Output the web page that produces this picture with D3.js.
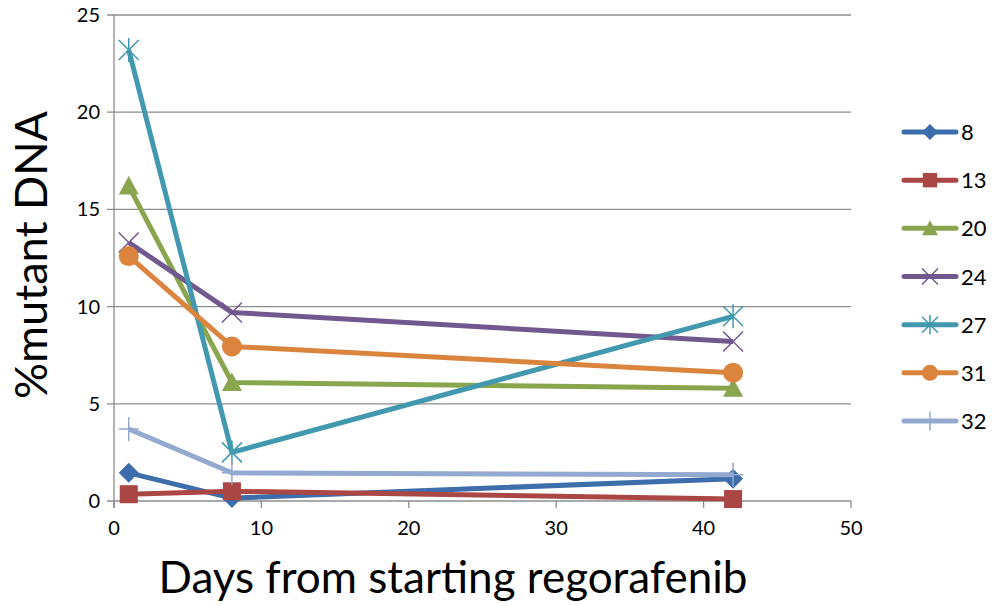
<!DOCTYPE html>
<html>
<head>
<meta charset="utf-8">
<script src="https://cdn.jsdelivr.net/npm/d3@7"></script>
<style>
  body { margin: 0; background: #fff; }
  text { font-family: Lato, "Open Sans", sans-serif; fill: #000; }
</style>
</head>
<body>
<svg id="chart"></svg>
<script>
// 1) Data -----------------------------------------------------------
const days = [1, 8, 42];
const seriesNames = ['8', '13', '20', '24', '27', '31', '32'];
const s8  = [1.45, 0.15, 1.15];
const s13 = [0.35, 0.5, 0.1];
const s20 = [16.2, 6.1, 5.8];
const s24 = [13.3, 9.7, 8.2];
const s27 = [23.2, 2.5, 9.5];
const s31 = [12.6, 7.95, 6.6];
const s32 = [3.7, 1.45, 1.35];
const xTicks = [0, 10, 20, 30, 40, 50];
const yTicks = [0, 5, 10, 15, 20, 25];

const seriesValues = [s8, s13, s20, s24, s27, s31, s32];
const colors = ['#3D6DAA', '#AA4643', '#89A54E', '#71588F', '#4198AF', '#DB843D', '#93A9CF'];
const markers = ['diamond', 'square', 'triangle', 'x', 'star', 'circle', 'plus'];

// 2) Dimensions -----------------------------------------------------
const width = 1000, height = 606;
const svg = d3.select('#chart').attr('width', width).attr('height', height);

const x = d3.scaleLinear().domain([0, 50]).range([114, 851]);
const y = d3.scaleLinear().domain([0, 25]).range([501, 15]);

// 3) Grid + axes ----------------------------------------------------
svg.append('g').selectAll('line')
  .data(yTicks)
  .enter().append('line')
  .attr('x1', 107).attr('x2', x(50))
  .attr('y1', d => y(d)).attr('y2', d => y(d))
  .attr('stroke', '#8c8c8c').attr('stroke-width', 1.3);

svg.append('line')
  .attr('x1', x(0)).attr('x2', x(0))
  .attr('y1', y(25)).attr('y2', y(0) + 7)
  .attr('stroke', '#8c8c8c').attr('stroke-width', 1.3);

svg.append('g').selectAll('line')
  .data(xTicks)
  .enter().append('line')
  .attr('x1', d => x(d)).attr('x2', d => x(d))
  .attr('y1', y(0)).attr('y2', y(0) + 7)
  .attr('stroke', '#8c8c8c').attr('stroke-width', 1.3);

svg.append('g').selectAll('text')
  .data(yTicks)
  .enter().append('text')
  .attr('x', 100).attr('y', d => y(d) + 7)
  .attr('text-anchor', 'end')
  .attr('font-size', 20)
  .text(d => d);

svg.append('g').selectAll('text')
  .data(xTicks)
  .enter().append('text')
  .attr('x', d => x(d)).attr('y', y(0) + 34)
  .attr('text-anchor', 'middle')
  .attr('font-size', 20)
  .text(d => d);

// titles
svg.append('text')
  .attr('x', 453).attr('y', 593)
  .attr('text-anchor', 'middle')
  .attr('font-size', 44)
  .text('Days from starting regorafenib');

svg.append('text')
  .attr('transform', 'translate(47,255) rotate(-90)')
  .attr('text-anchor', 'middle')
  .attr('font-size', 45)
  .text('%mutant DNA');

// 4) Markers --------------------------------------------------------
function drawMarker(g, type, color, size) {
  const s = size;
  if (type === 'diamond') {
    g.append('path').attr('d', `M0,${-s}L${s},0L0,${s}L${-s},0Z`).attr('fill', color);
  } else if (type === 'square') {
    g.append('rect').attr('x', -s * 0.9).attr('y', -s * 0.9)
      .attr('width', s * 1.8).attr('height', s * 1.8).attr('fill', color);
  } else if (type === 'triangle') {
    g.append('path').attr('d', `M0,${-s}L${s},${s * 0.85}L${-s},${s * 0.85}Z`).attr('fill', color);
  } else if (type === 'circle') {
    g.append('circle').attr('r', s).attr('fill', color);
  } else if (type === 'x') {
    g.append('path').attr('d', `M${-s},${-s}L${s},${s}M${-s},${s}L${s},${-s}`)
      .attr('stroke', color).attr('stroke-width', 1.5);
  } else if (type === 'star') {
    g.append('path').attr('d', `M${-s},${-s}L${s},${s}M${-s},${s}L${s},${-s}M0,${-s * 1.2}L0,${s * 1.2}`)
      .attr('stroke', color).attr('stroke-width', 1.5);
  } else if (type === 'plus') {
    g.append('path').attr('d', `M0,${-s * 1.2}L0,${s * 1.2}M${-s},0L${s},0`)
      .attr('stroke', color).attr('stroke-width', 1.5);
  }
}

// 5) Series lines ---------------------------------------------------
const line = d3.line().x((d, i) => x(days[i])).y(d => y(d));

seriesValues.forEach((vals, k) => {
  const g = svg.append('g');
  g.append('path')
    .attr('d', line(vals))
    .attr('fill', 'none')
    .attr('stroke', colors[k])
    .attr('stroke-width', 5)
    .attr('stroke-linejoin', 'round');
  vals.forEach((v, i) => {
    const m = g.append('g').attr('transform', `translate(${x(days[i])},${y(v)})`);
    drawMarker(m, markers[k], colors[k], 10);
  });
});

// 6) Legend ---------------------------------------------------------
const legendY = d3.scalePoint().domain(seriesNames).range([132, 421]);

seriesNames.forEach((name, k) => {
  const ly = legendY(name);
  const g = svg.append('g');
  g.append('line')
    .attr('x1', 904).attr('x2', 956)
    .attr('y1', ly).attr('y2', ly)
    .attr('stroke', colors[k]).attr('stroke-width', 5)
    .attr('stroke-linecap', 'round');
  const m = g.append('g').attr('transform', `translate(930,${ly})`);
  drawMarker(m, markers[k], colors[k], 8);
  g.append('text')
    .attr('x', 961).attr('y', ly + 8)
    .attr('font-size', 22)
    .text(name);
});
</script>
</body>
</html>
